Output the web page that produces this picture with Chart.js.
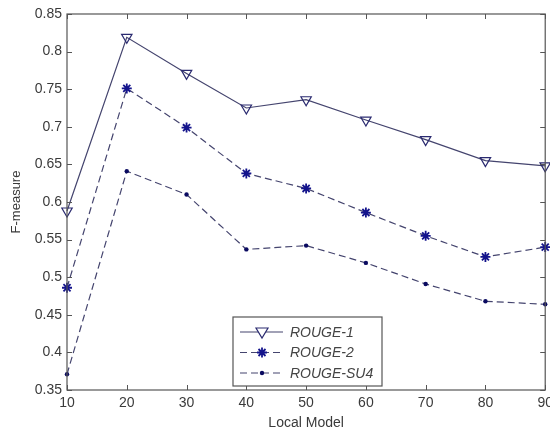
<!DOCTYPE html>
<html>
<head>
<meta charset="utf-8">
<script src="https://cdn.jsdelivr.net/npm/chart.js@4.4.1/dist/chart.umd.min.js"></script>
<style>
  html, body { margin: 0; padding: 0; background: #fff; overflow: hidden; }
  canvas { display: block; }
</style>
</head>
<body>
<canvas id="chart-fmeasure" width="558" height="432"></canvas>
<script>
const LOCAL_MODEL = [10, 20, 30, 40, 50, 60, 70, 80, 90];
const ROUGE_1   = [0.588, 0.819, 0.771, 0.725, 0.736, 0.709, 0.683, 0.655, 0.648];
const ROUGE_2   = [0.486, 0.751, 0.699, 0.638, 0.618, 0.586, 0.555, 0.527, 0.540];
const ROUGE_SU4 = [0.371, 0.641, 0.610, 0.537, 0.542, 0.519, 0.491, 0.468, 0.464];
const X_TICKS = [10, 20, 30, 40, 50, 60, 70, 80, 90];
const Y_TICKS = [0.35, 0.4, 0.45, 0.5, 0.55, 0.6, 0.65, 0.7, 0.75, 0.8, 0.85];

const AXIS_COLOR = "#555555";
const TEXT_COLOR = "#3a3a3a";
const LINE_COLOR = "#44446e";
const MARK_COLOR = "#14148c";
const FONT = "Liberation Sans, Arial, sans-serif";

// MATLAB-style box with inward ticks on all four sides
const framePlugin = {
  id: "frame",
  afterDatasetsDraw(chart) {
    const { ctx, chartArea: a, scales: { x, y } } = chart;
    ctx.save();
    ctx.strokeStyle = AXIS_COLOR;
    ctx.lineWidth = 1.2;
    ctx.strokeRect(a.left, a.top, a.right - a.left, a.bottom - a.top);
    ctx.lineWidth = 1;
    ctx.beginPath();
    x.ticks.forEach(t => {
      const px = Math.round(x.getPixelForValue(t.value)) + 0.5;
      ctx.moveTo(px, a.bottom); ctx.lineTo(px, a.bottom - 5);
      ctx.moveTo(px, a.top);    ctx.lineTo(px, a.top + 5);
    });
    y.ticks.forEach(t => {
      const py = Math.round(y.getPixelForValue(t.value)) + 0.5;
      ctx.moveTo(a.left, py);  ctx.lineTo(a.left + 5, py);
      ctx.moveTo(a.right, py); ctx.lineTo(a.right - 5, py);
    });
    ctx.stroke();
    ctx.restore();
  },
};

function drawMarker(ctx, style, cx, cy, color) {
  ctx.save();
  ctx.strokeStyle = color;
  ctx.fillStyle = color;
  ctx.setLineDash([]);
  if (style === "triangle") {
    ctx.lineWidth = 1.2;
    ctx.fillStyle = "#fff";
    ctx.beginPath();
    ctx.moveTo(cx - 6, cy - 4);
    ctx.lineTo(cx + 6, cy - 4);
    ctx.lineTo(cx, cy + 6);
    ctx.closePath();
    ctx.fill(); ctx.stroke();
  } else if (style === "star") {
    ctx.lineWidth = 1.8;
    ctx.beginPath();
    ctx.moveTo(cx - 5, cy); ctx.lineTo(cx + 5, cy);
    ctx.moveTo(cx, cy - 5); ctx.lineTo(cx, cy + 5);
    ctx.moveTo(cx - 3.5, cy - 3.5); ctx.lineTo(cx + 3.5, cy + 3.5);
    ctx.moveTo(cx - 3.5, cy + 3.5); ctx.lineTo(cx + 3.5, cy - 3.5);
    ctx.stroke();
  } else {
    ctx.beginPath();
    ctx.arc(cx, cy, 2.2, 0, Math.PI * 2);
    ctx.fill();
  }
  ctx.restore();
}

// boxed legend sitting inside the plot, bottom centre
const legendBoxPlugin = {
  id: "legendBox",
  afterDraw(chart) {
    const { ctx, chartArea: a } = chart;
    const bx = a.left + 166, by = a.bottom - 73, bw = 149, bh = 69;
    ctx.save();
    ctx.fillStyle = "#fff";
    ctx.fillRect(bx, by, bw, bh);
    ctx.strokeStyle = AXIS_COLOR;
    ctx.lineWidth = 1.2;
    ctx.strokeRect(bx, by, bw, bh);
    ctx.font = `italic 14px ${FONT}`;
    ctx.textBaseline = "middle";
    chart.data.datasets.forEach((ds, i) => {
      const ry = by + 15 + i * 20.5;
      ctx.strokeStyle = ds.borderColor;
      ctx.lineWidth = 1.2;
      ctx.setLineDash(ds.borderDash || []);
      ctx.beginPath();
      ctx.moveTo(bx + 7, ry); ctx.lineTo(bx + 50, ry);
      ctx.stroke();
      drawMarker(ctx, ds.pointStyle, bx + 29, ry, ds.pointBorderColor);
      ctx.fillStyle = "#444";
      ctx.fillText(ds.label, bx + 57, ry + 1);
    });
    ctx.restore();
  },
};

const yTickLabel = v => String(Math.round(v * 100) / 100);

new Chart(document.getElementById("chart-fmeasure"), {
  type: "line",
  plugins: [framePlugin, legendBoxPlugin],
  data: {
    datasets: [
      {
        label: "ROUGE-1",
        data: LOCAL_MODEL.map((m, i) => ({ x: m, y: ROUGE_1[i] })),
        borderColor: LINE_COLOR,
        borderWidth: 1.2,
        pointStyle: "triangle",
        rotation: 180,
        pointRadius: 6,
        pointBorderWidth: 1.2,
        pointBorderColor: "#2a2a70",
        pointBackgroundColor: "rgba(255,255,255,0)",
      },
      {
        label: "ROUGE-2",
        data: LOCAL_MODEL.map((m, i) => ({ x: m, y: ROUGE_2[i] })),
        borderColor: LINE_COLOR,
        borderWidth: 1.2,
        borderDash: [7, 4],
        pointStyle: "star",
        pointRadius: 5,
        pointBorderWidth: 1.8,
        pointBorderColor: MARK_COLOR,
        pointBackgroundColor: MARK_COLOR,
      },
      {
        label: "ROUGE-SU4",
        data: LOCAL_MODEL.map((m, i) => ({ x: m, y: ROUGE_SU4[i] })),
        borderColor: LINE_COLOR,
        borderWidth: 1.2,
        borderDash: [7, 4],
        pointStyle: "circle",
        pointRadius: 2.2,
        pointBorderWidth: 0,
        pointBorderColor: "#0a0a60",
        pointBackgroundColor: "#0a0a60",
      },
    ],
  },
  options: {
    responsive: false,
    animation: false,
    clip: false,
    layout: { padding: { top: 14, right: 0, left: 0, bottom: 0 } },
    plugins: { legend: { display: false }, tooltip: { enabled: false } },
    scales: {
      x: {
        type: "linear",
        min: 10,
        max: 90,
        afterBuildTicks: s => { s.ticks = X_TICKS.map(v => ({ value: v })); },
        afterFit: s => { s.height = 42; },
        grid: { display: false, drawTicks: false },
        border: { display: false },
        ticks: { color: TEXT_COLOR, font: { family: FONT, size: 14 }, padding: 5, maxRotation: 0 },
        title: {
          display: true,
          text: "Local Model",
          color: TEXT_COLOR,
          font: { family: FONT, size: 14 },
          padding: { top: 0, bottom: 0 },
        },
      },
      y: {
        min: 0.35,
        max: 0.85,
        afterBuildTicks: s => { s.ticks = Y_TICKS.map(v => ({ value: v })); },
        afterFit: s => { s.width = 67; },
        grid: { display: false, drawTicks: false },
        border: { display: false },
        ticks: { color: TEXT_COLOR, font: { family: FONT, size: 14 }, padding: 5, callback: yTickLabel },
        title: {
          display: true,
          text: "F-measure",
          color: TEXT_COLOR,
          font: { family: FONT, size: 13 },
          padding: { top: 9, bottom: 0 },
        },
      },
    },
  },
});
</script>
</body>
</html>
